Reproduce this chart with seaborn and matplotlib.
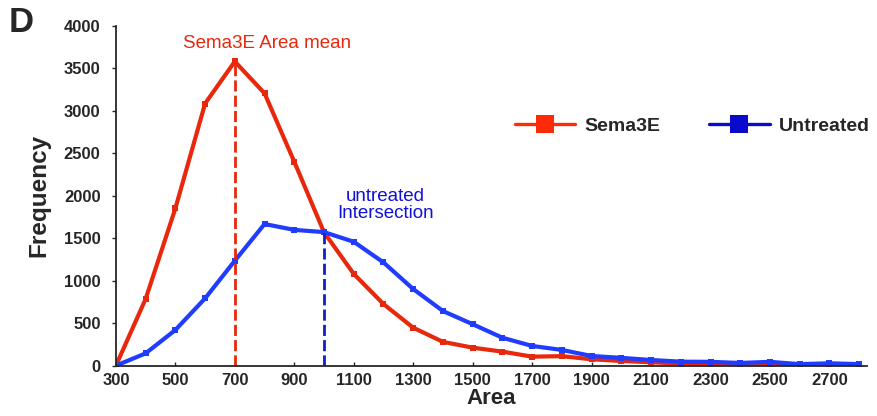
import numpy as np
import pandas as pd
import matplotlib
matplotlib.use("Agg")
import matplotlib.pyplot as plt
import seaborn as sns
from matplotlib.lines import Line2D

# Binned area values (bin centres) and counts per condition
area = [300, 400, 500, 600, 700, 800, 900, 1000, 1100, 1200, 1300, 1400, 1500,
        1600, 1700, 1800, 1900, 2000, 2100, 2200, 2300, 2400, 2500, 2600, 2700, 2800]
sema3e = [0, 785, 1850, 3085, 3580, 3205, 2400, 1570, 1080, 725, 447, 280, 212,
          165, 106, 112, 75, 55, 40, 25, 20, 15, 15, 10, 10, 5]
untreated = [0, 145, 420, 792, 1235, 1667, 1598, 1572, 1458, 1215, 902, 643, 488,
             329, 232, 185, 114, 92, 67, 47, 45, 32, 45, 18, 28, 18]

sema3e_mean = 700
intersection = 1000
intersection_freq = 1570

RED = "#e8280c"
BLUE = "#1f3cff"

df = pd.DataFrame({
    "Area": area * 2,
    "Frequency": sema3e + untreated,
    "group": ["Sema3E"] * len(area) + ["Untreated"] * len(area),
})

sns.set_style("ticks")
plt.rcParams["font.family"] = ["Liberation Sans", "DejaVu Sans"]

fig = plt.figure(figsize=(8.78, 4.16), dpi=100)
ax = fig.add_axes([0.132, 0.121, 0.855, 0.817])

sns.lineplot(data=df, x="Area", y="Frequency", hue="group",
             palette={"Sema3E": RED, "Untreated": BLUE},
             marker="s", markersize=5, markeredgewidth=0, linewidth=3.0,
             legend=False, ax=ax)

# mean / intersection markers
ax.vlines(sema3e_mean, 0, max(sema3e), colors=RED, linestyles=(0, (4, 1.5)), linewidth=2.0)
ax.vlines(intersection, 0, intersection_freq, colors="#1020c0", linestyles=(0, (4, 1.5)), linewidth=2.0)

ax.text(808, 3790, "Sema3E Area mean", color=RED, fontsize=13.5, ha="center", va="center")
ax.text(1206, 1890, "untreated\nIntersection", color="#1010dd", fontsize=13.5,
        ha="center", va="center", linespacing=1.05)

ax.set_xlim(300, 2825)
ax.set_ylim(0, 4000)
ax.set_xticks(range(300, 2800, 200))
ax.set_yticks(range(0, 4001, 500))
ax.tick_params(axis="y", labelsize=12, length=3, width=1, pad=8)
ax.tick_params(axis="x", labelsize=12, length=3, width=1, pad=5, direction="in")
for lbl in ax.get_xticklabels() + ax.get_yticklabels():
    lbl.set_fontweight("bold")
ax.set_xlabel("Area", fontsize=16, fontweight="bold", labelpad=0)
ax.set_ylabel("Frequency", fontsize=17.5, fontweight="bold", labelpad=10)
sns.despine(ax=ax)
for s in ["left", "bottom"]:
    ax.spines[s].set_linewidth(1.3)

handles = [
    Line2D([], [], color="#ff2a08", linewidth=2.4, marker="s", markersize=13,
           markeredgewidth=0),
    Line2D([], [], color="#0a0acc", linewidth=2.4, marker="s", markersize=13,
           markeredgewidth=0),
]
ax.legend(handles, ["Sema3E", "Untreated"], ncol=2, frameon=False,
          loc="center", bbox_to_anchor=(0.768, 0.705),
          prop={"weight": "bold", "size": 14}, handlelength=3.1,
          handletextpad=0.5, columnspacing=2.5)

fig.text(0.01, 0.945, "D", fontsize=25, fontweight="bold", va="center")

fig.savefig("out.png", dpi=100)
